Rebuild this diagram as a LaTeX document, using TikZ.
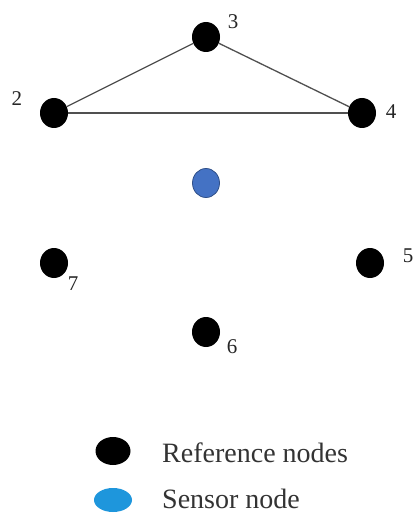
\documentclass[tikz,border=0pt]{standalone}
\usepackage{fontspec}
\setmainfont{Liberation Serif}
\usetikzlibrary{shapes.geometric}
\definecolor{sensorblue}{HTML}{4472C4}
\definecolor{legendblue}{HTML}{1E96DC}
\definecolor{edgegray}{HTML}{505050}
\begin{document}
\begin{tikzpicture}[x=1pt,y=-1pt,
  refnode/.style={ellipse,fill=black,draw=none,minimum width=28pt,minimum height=30pt,inner sep=0pt},
  sensornode/.style={ellipse,fill=sensorblue,draw=sensorblue!70!black,line width=0.8pt,minimum width=27pt,minimum height=29pt,inner sep=0pt},
  num/.style={font=\fontsize{21}{21}\selectfont,text=black!85,inner sep=0pt},
  legtext/.style={font=\fontsize{28}{28}\selectfont,text=black!80,inner sep=0pt,anchor=base west},
  edge/.style={draw=edgegray,line width=1.3pt}]
\useasboundingbox (0,0) rectangle (415,513);
\fill[white] (0,0) rectangle (415,513);
\node[refnode] (n3) at (206,37) {};
\node[refnode] (n2) at (54,113) {};
\node[refnode] (n4) at (362,113) {};
\node[sensornode] (s) at (206,183) {};
\node[refnode] (n7) at (54,263) {};
\node[refnode] (n5) at (370,263) {};
\node[refnode] (n6) at (206,332) {};
\draw[edge] (n3) -- (n2);
\draw[edge] (n3) -- (n4);
\draw[edge] (n2) -- (n4);
\node[num] (l3) at (233,22) {3};
\node[num] (l2) at (17,99) {2};
\node[num] (l4) at (391,112) {4};
\node[num] (l5) at (408,256) {5};
\node[num] (l7) at (73,284) {7};
\node[num] (l6) at (232,347) {6};
\node[ellipse,fill=black,minimum width=35pt,minimum height=28pt,inner sep=0pt] (lr) at (113,451) {};
\node[ellipse,fill=legendblue,minimum width=38pt,minimum height=24pt,inner sep=0pt] (ls) at (113,500) {};
\node[legtext] (tr) at (162,462) {Reference nodes};
\node[legtext] (ts) at (162,508) {Sensor node};
\end{tikzpicture}
\end{document}
